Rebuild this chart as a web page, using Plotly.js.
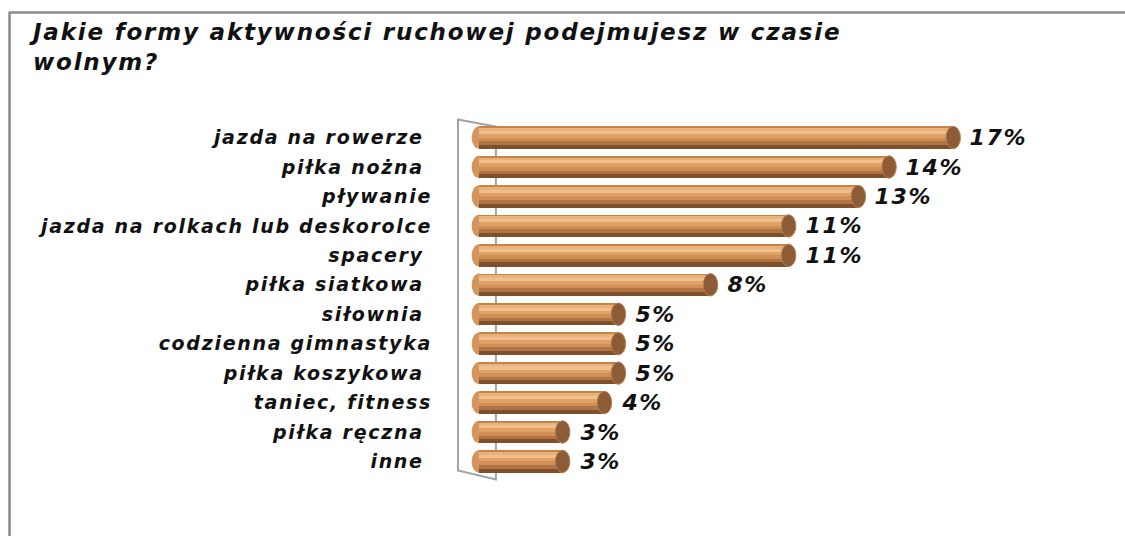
<!DOCTYPE html>
<html>
<head>
<meta charset="utf-8">
<script src="https://cdn.plot.ly/plotly-3.0.1.min.js"></script>
<style>
html,body{margin:0;padding:0;background:#fff;}
#chart{width:1125px;height:536px;}
#chart .gtitle{letter-spacing:1.8px;}
#chart .ytick text{letter-spacing:1.7px;}
#chart .annotation-text{letter-spacing:1.6px;}
</style>
</head>
<body>
<div id="chart"></div>
<script>
// ---- data ----
const categories = ["jazda na rowerze\u00a0", "piłka nożna\u00a0", "pływanie", "jazda na rolkach lub deskorolce",
  "spacery\u00a0", "piłka siatkowa\u00a0", "siłownia\u00a0", "codzienna gimnastyka", "piłka koszykowa\u00a0",
  "taniec, fitness", "piłka ręczna\u00a0", "inne\u00a0"];
const values = [17.0, 14.7, 13.6, 11.1, 11.1, 8.3, 5.0, 5.0, 5.0, 4.5, 3.0, 3.0];
const valueLabels = ["17%", "14%", "13%", "11%", "11%", "8%", "5%", "5%", "5%", "4%", "3%", "3%"];
const titleText = "Jakie formy aktywności ruchowej podejmujesz w czasie<br>wolnym?";

// ---- build ----
const idx = categories.map((c, i) => i);
const BW = 0.76;          // bar thickness (category units)
const top0 = -BW / 2;
// cylinder shading stripes: [start fraction, end fraction, colour]
const stripes = [
  [0.00, 0.08, "#c78447"],
  [0.08, 0.20, "#e9b27a"],
  [0.20, 0.34, "#f0c08c"],
  [0.34, 0.50, "#e0a166"],
  [0.50, 0.66, "#cf8f55"],
  [0.66, 0.82, "#b07343"],
  [0.82, 1.00, "#7e4f2b"]
];
const traces = stripes.map(s => ({
  type: "bar", orientation: "h",
  x: values, y: idx,
  width: BW * (s[1] - s[0]),
  offset: top0 + BW * s[0],
  marker: {color: s[2], line: {width: 0}},
  hoverinfo: "skip", showlegend: false
}));

const capHalf = 0.26;
const shapes = [];
// left wall (3D backdrop)
shapes.push({type: "path", xref: "x", yref: "y", layer: "below",
  path: "M -0.75,-0.61 L 0.61,-0.37 L 0.61,11.61 L -0.75,11.31 Z",
  line: {color: "#a3a3a3", width: 2}, fillcolor: "rgba(255,255,255,0)"});
// rounded left ends
idx.forEach(i => shapes.push({type: "circle", xref: "x", yref: "y", layer: "below",
  x0: -capHalf, x1: capHalf, y0: i - BW / 2, y1: i + BW / 2,
  fillcolor: "#d3955b", line: {width: 0}}));
// right end caps
idx.forEach(i => shapes.push({type: "circle", xref: "x", yref: "y", layer: "above",
  x0: values[i] - capHalf, x1: values[i] + capHalf, y0: i - BW / 2, y1: i + BW / 2,
  fillcolor: "#8d5c37", line: {color: "#b5804e", width: 1}}));

// outer frame (top and left borders)
const ml = 451, mr = 20, mt = 114, mb = 51, W = 1125, H = 536;
const pw = W - ml - mr, ph = H - mt - mb;
const px = v => (v - ml) / pw, py = v => (H - mb - v) / ph;
shapes.push({type: "line", xref: "paper", yref: "paper", x0: px(9), x1: px(1130), y0: py(12.5), y1: py(12.5),
  line: {color: "#8a8a8a", width: 2.5}});
shapes.push({type: "line", xref: "paper", yref: "paper", x0: px(9.5), x1: px(9.5), y0: py(12), y1: py(540),
  line: {color: "#8a8a8a", width: 2.5}});

const annotations = idx.map(i => ({
  x: values[i], y: i, xref: "x", yref: "y", text: valueLabels[i],
  xanchor: "left", yanchor: "middle", xshift: 17, showarrow: false,
  font: {family: "DejaVu Sans", size: 22, color: "#111", style: "italic", weight: "bold"}
}));

const layout = {
  width: W, height: H,
  margin: {l: ml, r: mr, t: mt, b: mb},
  paper_bgcolor: "#fff", plot_bgcolor: "#fff",
  barmode: "overlay", bargap: 0,
  title: {text: titleText, x: 33 / W, xref: "container", xanchor: "left", y: 1 - 40 / H, yref: "container", yanchor: "top",
    font: {family: "DejaVu Sans", size: 23, color: "#111", style: "italic", weight: "bold"}},
  xaxis: {range: [-1, -1 + pw / 27.9], visible: false, fixedrange: true},
  yaxis: {range: [11.8, -0.8], tickvals: idx, ticktext: categories, showgrid: false, zeroline: false,
    showline: false, ticks: "", ticklabelstandoff: 18,
    tickfont: {family: "DejaVu Sans", size: 19, color: "#111", style: "italic", weight: "bold"}},
  shapes: shapes, annotations: annotations, showlegend: false
};
Plotly.newPlot("chart", traces, layout, {displayModeBar: false, staticPlot: true});
</script>
</body>
</html>
